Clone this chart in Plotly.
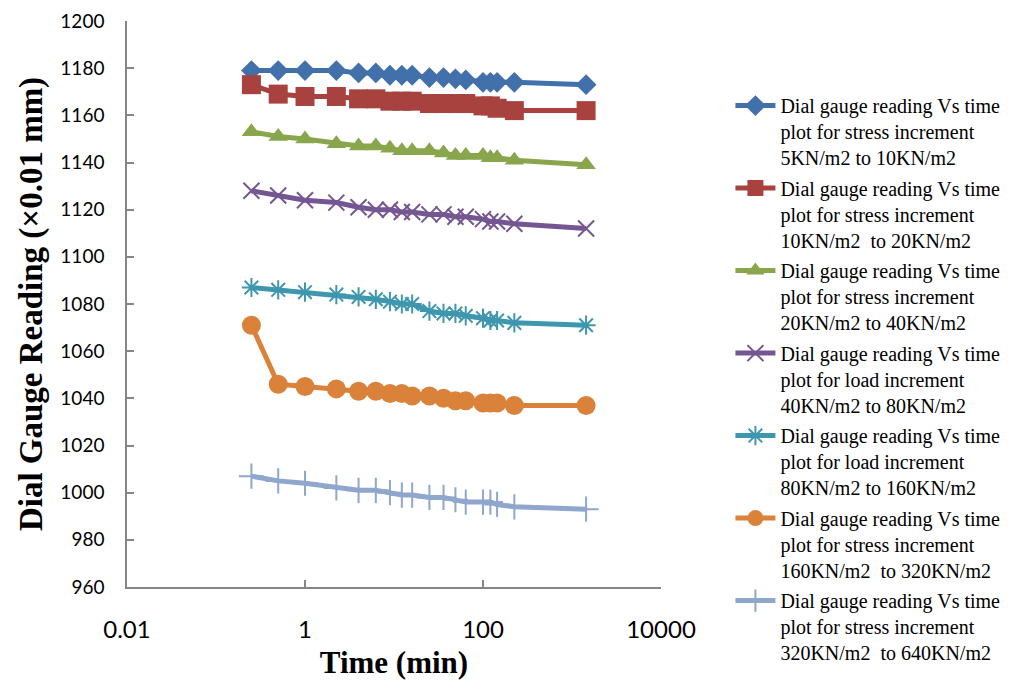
import plotly.graph_objects as go

time_min = [0.25, 0.5, 1, 2.25, 4, 6.25, 9, 12.25, 16, 25, 36, 49, 64, 100, 121, 144, 225, 1440]

s_5_10 = [1179, 1179, 1179, 1179, 1178, 1178, 1177, 1177, 1177, 1176, 1176, 1175.5, 1175, 1174, 1174, 1174, 1174, 1173]
s_10_20 = [1173, 1169, 1168, 1168, 1167, 1167, 1166, 1166, 1166, 1165, 1165, 1165, 1165, 1164, 1164, 1163, 1162, 1162]
s_20_40 = [1153, 1151, 1150, 1148, 1147, 1147, 1146, 1145, 1145, 1145, 1144, 1143, 1143, 1143, 1142, 1142, 1141, 1139]
s_40_80 = [1128, 1126, 1124, 1123, 1121, 1120, 1120, 1119, 1119, 1118, 1118, 1117, 1117, 1116, 1115, 1115, 1114, 1112]
s_80_160 = [1087, 1086, 1085, 1084, 1083, 1082, 1081, 1080, 1080, 1077, 1076, 1076, 1075, 1074, 1073, 1073, 1072, 1071]
s_160_320 = [1071, 1046, 1045, 1044, 1043, 1043, 1042, 1042, 1041, 1041, 1040, 1039, 1039, 1038, 1038, 1038, 1037, 1037]
s_320_640 = [1007, 1005, 1004, 1002, 1001, 1001, 1000, 999, 999, 998, 998, 997, 996, 996, 996, 995, 994, 993]

series_names = [
    "Dial gauge reading Vs time<br>plot for stress increment<br>5KN/m2 to 10KN/m2",
    "Dial gauge reading Vs time<br>plot for stress increment<br>10KN/m2  to 20KN/m2",
    "Dial gauge reading Vs time<br>plot for stress increment<br>20KN/m2 to 40KN/m2",
    "Dial gauge reading Vs time<br>plot for load increment<br>40KN/m2 to 80KN/m2",
    "Dial gauge reading Vs time<br>plot for load increment<br>80KN/m2 to 160KN/m2",
    "Dial gauge reading Vs time<br>plot for stress increment<br>160KN/m2  to 320KN/m2",
    "Dial gauge reading Vs time<br>plot for stress increment<br>320KN/m2  to 640KN/m2",
]
series_values = [s_5_10, s_10_20, s_20_40, s_40_80, s_80_160, s_160_320, s_320_640]

x_tickvals = [0.01, 1, 100, 10000]
x_ticktext = ["0.01", "1", "100", "10000"]

colors = ["#4170AA", "#A7423E", "#89A64D", "#745792", "#3E97AE", "#DA823A", "#8FA6CD"]
symbols = ["diamond", "square", "triangle-up", "x-thin-open", "asterisk-open", "circle", "cross-thin-open"]
sizes = [16, 19, 17, 16, 16, 19, 18]

fig = go.Figure()
for i, (name, vals, c, sym, sz) in enumerate(zip(series_names, series_values, colors, symbols, sizes)):
    thin = sym.endswith("-open")
    fig.add_trace(go.Scatter(
        x=time_min, y=vals, name=name, mode="lines+markers", legendgroup=f"g{i}",
        line=dict(color=c, width=5),
        marker=dict(symbol=sym, size=sz, color=c,
                    line=dict(color=c, width=2 if thin else 0)),
    ))

axis_common = dict(
    showline=True, linecolor="#868686", linewidth=1.5,
    ticks="inside", ticklen=7, tickcolor="#868686", tickwidth=1.5,
    showgrid=False, zeroline=False, automargin=False,
)

fig.update_layout(
    width=1024, height=680,
    margin=dict(l=127, r=363, t=21, b=93, autoexpand=False),
    paper_bgcolor="white", plot_bgcolor="white",
    xaxis=dict(type="log", range=[-2, 4], tickvals=x_tickvals, ticktext=x_ticktext,
               ticklabelstandoff=20,
               tickfont=dict(family="Lato", size=24, color="#000000"),
               title=dict(text="<b>Time (min)</b>", standoff=14,
                          font=dict(family="Liberation Serif", size=31, color="#000000")),
               **axis_common),
    yaxis=dict(range=[960, 1200], dtick=20, ticklabelstandoff=17,
               tickfont=dict(family="Lato", size=19, color="#000000"),
               title=dict(text="<b>Dial Gauge Reading (×0.01 mm)</b>", standoff=8,
                          font=dict(family="Liberation Serif", size=33, color="#000000")),
               **axis_common),
    legend=dict(x=1.13, xanchor="left", y=0.885, yanchor="top",
                valign="top", maxheight=640,
                font=dict(family="Liberation Serif", size=20, color="#000000"),
                tracegroupgap=1.5, itemwidth=40, bgcolor="rgba(0,0,0,0)"),
    showlegend=True,
)

fig.write_html("out.html")
